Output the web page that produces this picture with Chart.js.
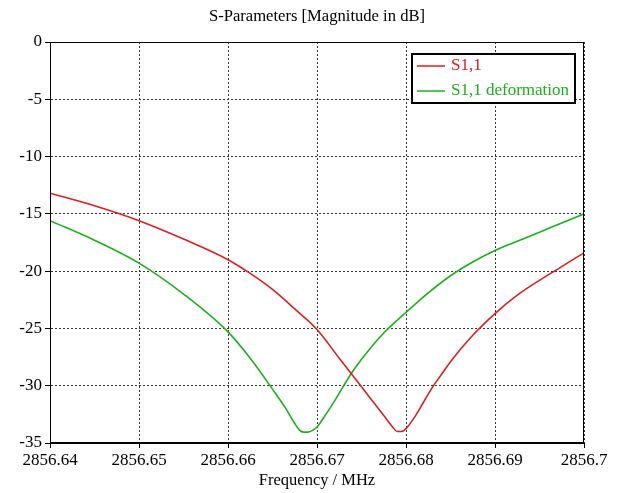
<!DOCTYPE html>
<html>
<head>
<meta charset="utf-8">
<script src="https://cdn.jsdelivr.net/npm/chart.js@4.4.0/dist/chart.umd.min.js"></script>
<style>
  html, body { margin: 0; padding: 0; background: #fff; }
</style>
</head>
<body>
<canvas id="sParams" width="621" height="493"></canvas>
<script>
// Data
const s11Freq = [2856.640, 2856.645, 2856.650, 2856.655, 2856.660, 2856.6625, 2856.665, 2856.6675,
  2856.670, 2856.6725, 2856.675, 2856.6765, 2856.6775, 2856.6785, 2856.679, 2856.6795, 2856.680,
  2856.681, 2856.682, 2856.683, 2856.684, 2856.685, 2856.6875, 2856.690, 2856.6925,
  2856.695, 2856.6975, 2856.700];
const s11Db = [-13.2, -14.3, -15.6, -17.2, -19.0, -20.2, -21.6, -23.3,
  -25.1, -27.6, -30.1, -31.6, -32.6, -33.6, -34.0, -34.0, -33.75,
  -32.7, -31.4, -30.1, -29.0, -27.9, -25.6, -23.7, -22.1,
  -20.8, -19.6, -18.4];

const s11DefFreq = [2856.640, 2856.645, 2856.650, 2856.655, 2856.660, 2856.6625, 2856.665, 2856.6665,
  2856.6675, 2856.668, 2856.6685, 2856.669, 2856.6695, 2856.670, 2856.671, 2856.672, 2856.6738,
  2856.675, 2856.6775, 2856.680, 2856.6825, 2856.685, 2856.6875, 2856.690, 2856.6925, 2856.695,
  2856.6975, 2856.700];
const s11DefDb = [-15.6, -17.3, -19.3, -22.0, -25.3, -27.6, -30.3, -32.0,
  -33.3, -33.85, -34.05, -34.05, -33.9, -33.6, -32.5, -31.3, -29.0,
  -27.7, -25.4, -23.6, -21.9, -20.4, -19.2, -18.2, -17.4, -16.6,
  -15.8, -15.0];

const xTicks = [2856.64, 2856.65, 2856.66, 2856.67, 2856.68, 2856.69, 2856.7];
const yTicks = [0, -5, -10, -15, -20, -25, -30, -35];

const seriesNames = ['S1,1', 'S1,1 deformation'];
const seriesColors = ['#d62222', '#1fae1f'];
const chartTitle = 'S-Parameters [Magnitude in dB]';

const serif = '"Liberation Serif", "Times New Roman", serif';

function toPoints(xs, ys) {
    return xs.map((x, i) => ({ x: x, y: ys[i] }));
}

// Title over the plot, frame around plot, boxed legend inside the plot (top right)
const frameAndLegend = {
    id: 'frameAndLegend',
    afterDraw(chart) {
        const ctx = chart.ctx;
        const a = chart.chartArea;
        ctx.save();

        ctx.fillStyle = '#000';
        ctx.font = '16.6px ' + serif;
        ctx.textAlign = 'center';
        ctx.textBaseline = 'middle';
        ctx.fillText(chartTitle, (a.left + a.right) / 2, 17);

        ctx.strokeStyle = '#000';
        ctx.lineWidth = 1;
        ctx.strokeRect(Math.round(a.left) + 0.5, Math.round(a.top) + 0.5,
            Math.round(a.right - a.left) - 1, Math.round(a.bottom - a.top) - 1);

        // legend box
        const bx = 412, by = 54, bw = 163, bh = 49;
        ctx.fillStyle = '#fff';
        ctx.fillRect(bx, by, bw, bh);
        ctx.lineWidth = 2;
        ctx.strokeRect(bx, by, bw, bh);

        ctx.font = '17px ' + serif;
        ctx.textBaseline = 'middle';
        ctx.textAlign = 'left';
        chart.data.datasets.forEach((ds, i) => {
            const y = by + 12 + i * 25;
            ctx.strokeStyle = ds.borderColor;
            ctx.lineWidth = 1.5;
            ctx.beginPath();
            ctx.moveTo(bx + 5, y);
            ctx.lineTo(bx + 33, y);
            ctx.stroke();
            ctx.fillStyle = ds.borderColor;
            ctx.fillText(ds.label, bx + 39, y);
        });
        ctx.restore();
    }
};

new Chart(document.getElementById('sParams'), {
    type: 'line',
    data: {
        datasets: [
            {
                label: seriesNames[0],
                data: toPoints(s11Freq, s11Db),
                borderColor: seriesColors[0],
                borderWidth: 1.6,
                pointRadius: 0,
                cubicInterpolationMode: 'monotone',
                fill: false
            },
            {
                label: seriesNames[1],
                data: toPoints(s11DefFreq, s11DefDb),
                borderColor: seriesColors[1],
                borderWidth: 1.6,
                pointRadius: 0,
                cubicInterpolationMode: 'monotone',
                fill: false
            }
        ]
    },
    options: {
        responsive: false,
        animation: false,
        layout: { padding: { left: 0, right: 37, top: 42, bottom: 0 } },
        plugins: {
            legend: { display: false },
            tooltip: { enabled: false },
            title: { display: false }
        },
        scales: {
            x: {
                type: 'linear',
                min: 2856.64,
                max: 2856.7,
                afterBuildTicks: scale => { scale.ticks = xTicks.map(v => ({ value: v })); },
                afterFit: scale => { scale.height = 50; },
                ticks: {
                    color: '#000',
                    font: { family: serif, size: 17 },
                    padding: 2,
                    maxRotation: 0,
                    autoSkip: false,
                    callback: v => String(v)
                },
                grid: {
                    color: '#333',
                    lineWidth: 1,
                    tickLength: 5,
                    tickColor: '#000',
                    tickBorderDash: []
                },
                border: { display: true, color: '#000', width: 1, dash: [2, 2] },
                title: {
                    display: true,
                    text: 'Frequency / MHz',
                    color: '#000',
                    font: { family: serif, size: 16.5, lineHeight: 1.2 },
                    padding: { top: 0, bottom: 2 }
                }
            },
            y: {
                type: 'linear',
                min: -35,
                max: 0,
                afterBuildTicks: scale => { scale.ticks = yTicks.map(v => ({ value: v })); },
                afterFit: scale => { scale.width = 50; },
                ticks: {
                    color: '#000',
                    font: { family: serif, size: 17 },
                    padding: 3,
                    callback: v => String(v)
                },
                grid: {
                    color: '#333',
                    lineWidth: 1,
                    tickLength: 5,
                    tickColor: '#000',
                    tickBorderDash: []
                },
                border: { display: true, color: '#000', width: 1, dash: [2, 2] }
            }
        }
    },
    plugins: [frameAndLegend]
});
</script>
</body>
</html>
